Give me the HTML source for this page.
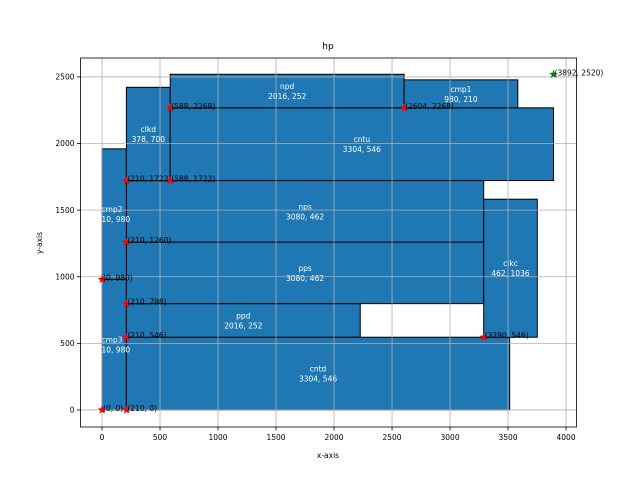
<!DOCTYPE html>
<html><head><meta charset="utf-8"><style>
body{margin:0;background:#fff}
svg{font-family:"DejaVu Sans","Liberation Sans",sans-serif}
</style></head><body>
<svg id="c" width="640" height="480" xmlns="http://www.w3.org/2000/svg">
<rect width="640" height="480" fill="#fff"/>
<text x="328" y="49" font-size="9" text-anchor="middle">hp</text>
<g id="rects"></g><g id="labels"></g><g id="grid"></g><g id="marks"></g><g id="axes"></g>
<text x="328" y="458" font-size="7.5" text-anchor="middle">x-axis</text>
<text x="42" y="243" font-size="7.5" text-anchor="middle" transform="rotate(-90 42 243)">y-axis</text>
</svg>
<script>
const names=["cmp3","cntd","ppd","pps","nps","cmp2","clkd","cntu","npd","cmp1","clkc"];
const xs=[0,210,210,210,210,0,210,588,588,2604,3290];
const ys=[0,0,546,798,1260,980,1722,1722,2268,2268,546];
const ws=[210,3304,2016,3080,3080,210,378,3304,2016,980,462];
const hs=[980,546,252,462,462,980,700,546,252,210,1036];
const ptX=[0,210,210,210,0,210,210,588,588,2604,3290];
const ptY=[0,0,546,798,980,1260,1722,1722,2268,2268,546];
const goalX=[3892], goalY=[2520];
const xTicks=[0,500,1000,1500,2000,2500,3000,3500,4000];
const yTicks=[0,500,1000,1500,2000,2500];
const L=80.5,R=576.5,T=58,B=427,xmin=-185.5,xmax=4090,ymin=-128,ymax=2642;
const sx=v=>L+(v-xmin)/(xmax-xmin)*(R-L);
const sy=v=>B-(v-ymin)/(ymax-ymin)*(B-T);
const NS="http://www.w3.org/2000/svg";
function mk(t,a,p){const e=document.createElementNS(NS,t);for(const k in a)e.setAttribute(k,a[k]);p.appendChild(e);return e;}
const gR=document.getElementById('rects'),gL=document.getElementById('labels'),gG=document.getElementById('grid'),gM=document.getElementById('marks'),gA=document.getElementById('axes');
names.forEach((n,i)=>{
 const x0=sx(xs[i]),x1=sx(xs[i]+ws[i]),y0=sy(ys[i]+hs[i]),y1=sy(ys[i]);
 const r=mk('rect',{x:x0,y:y0,width:x1-x0,height:y1-y0,fill:'#1f77b4',stroke:'#000','stroke-width':1},gR);
 
 
 const narrow=ws[i]<300;
 const cx=narrow?x0-0.5:(x0+x1)/2, cy=(y0+y1)/2;
 const anc=narrow?'start':'middle';
 const t1=mk('text',{x:cx,y:cy-2,'font-size':7.5,fill:'#fff','text-anchor':anc},gL);t1.textContent=n;
 
 
 const t2=mk('text',{x:cx,y:cy+8,'font-size':7.5,fill:'#fff','text-anchor':anc},gL);
 t2.textContent=(narrow?String(ws[i]).slice(1):ws[i])+', '+hs[i];
 
 
});
xTicks.forEach(v=>{const x=sx(v);
 const l=mk('line',{x1:x,x2:x,y1:T,y2:B,stroke:'#b0b0b0','stroke-width':0.8},gG);
 
 
 mk('line',{x1:x,x2:x,y1:B,y2:B+3.5,stroke:'#000','stroke-width':0.8},gA);
 const t=mk('text',{x:x,y:B+13,'font-size':7.5,'text-anchor':'middle'},gA);t.textContent=v;
 
 
});
yTicks.forEach(v=>{const y=sy(v);
 const l=mk('line',{x1:L,x2:R,y1:y,y2:y,stroke:'#b0b0b0','stroke-width':0.8},gG);
 
 
 mk('line',{x1:L-3.5,x2:L,y1:y,y2:y,stroke:'#000','stroke-width':0.8},gA);
 const t=mk('text',{x:L-6,y:y+2.7,'font-size':7.5,'text-anchor':'end'},gA);t.textContent=v;
 
 
});
const fr=mk('rect',{x:L,y:T,width:R-L,height:B-T,fill:'none',stroke:'#000','stroke-width':0.8},gA);


function star(x,y,c,name){
 let p='';for(let k=0;k<10;k++){const a=-Math.PI/2+k*Math.PI/5,r=k%2?1.9:4.6;p+=(x+r*Math.cos(a))+','+(y+r*Math.sin(a))+' ';}
 const s=mk('polygon',{points:p,fill:c},gM);
 
 
}
function lab(x,y,txt){const t=mk('text',{x:sx(x)+1,y:sy(y)+1,'font-size':7.5,fill:'#000'},gM);t.textContent=txt;
 
 }
ptX.forEach((v,i)=>{star(sx(v),sy(ptY[i]),'#ff0000','corner-point');lab(v,ptY[i],'('+v+', '+ptY[i]+')');});
goalX.forEach((v,i)=>{star(sx(v),sy(goalY[i]),'#008000','goal-point');lab(v,goalY[i],'('+v+', '+goalY[i]+')');});
</script>
</body></html>
